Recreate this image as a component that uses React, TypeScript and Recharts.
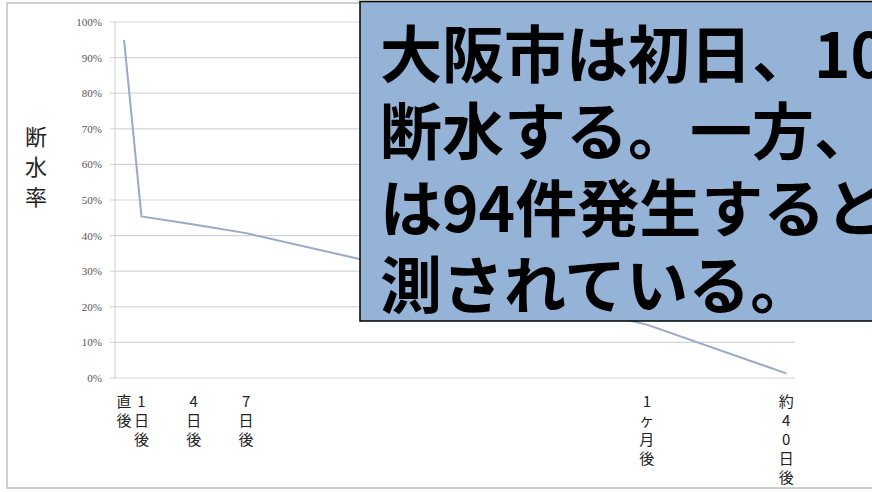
import { LineChart, Line, XAxis, YAxis, CartesianGrid } from "recharts";

// days after the quake (x) and share of households without water (%)
const days = [0, 1, 4, 7, 30, 38];
const rates = [95, 45.4, 43.1, 40.7, 15, 1.3];
const dayLabels = ["直後", "1日後", "4日後", "7日後", "1ヶ月後", "約40日後"];
const yTicks = [0, 10, 20, 30, 40, 50, 60, 70, 80, 90, 100];
const yTitle = "断水率";
const noteLines = ["大阪市は初日、10", "断水する。一方、火", "は94件発生すると", "測されている。"];

const data = days.map((d, i) => ({ day: d, rate: rates[i] }));

const DayTick = (props: any) => {
  const { x, y, payload } = props;
  const label = dayLabels[days.indexOf(payload.value)] ?? "";
  return (
    <text textAnchor="middle" fill="#222" fontSize={15} fontFamily="'Noto Sans CJK JP', sans-serif">
      {Array.from(label).map((c, i) => (
        <tspan key={i} x={x} y={y + 21 + i * 19}>
          {c}
        </tspan>
      ))}
    </text>
  );
};

const YTitle = () => (
  <text textAnchor="middle" fill="#222" fontSize={22} fontFamily="'Noto Sans CJK JP', sans-serif">
    {Array.from(yTitle).map((c, i) => (
      <tspan key={i} x={36} y={145 + i * 30}>
        {c}
      </tspan>
    ))}
  </text>
);

export default function App() {
  return (
    <div style={{ position: "absolute", left: 0, top: 0, width: 872, height: 492, overflow: "hidden", background: "#fff" }}>
      <LineChart width={872} height={492} data={data} margin={{ top: 22, right: 77, bottom: 0, left: 0 }}>
        <CartesianGrid vertical={false} stroke="#d4d4d4" strokeWidth={1.2} />
        <XAxis
          dataKey="day"
          type="number"
          domain={[-0.52, 38.5]}
          ticks={days}
          interval={0}
          axisLine={false}
          tickLine={false}
          height={114}
          tick={<DayTick />}
        />
        <YAxis
          domain={[0, 100]}
          ticks={yTicks}
          width={115}
          tickSize={5}
          tickMargin={8}
          axisLine={{ stroke: "#d0d0d0" }}
          tickLine={{ stroke: "#d0d0d0" }}
          tickFormatter={(v) => `${v}%`}
          tick={{ fontSize: 11, fill: "#555", fontFamily: "'Liberation Serif', serif" }}
          label={{ content: () => <YTitle /> }}
        />
        <Line
          type="linear"
          dataKey="rate"
          stroke="#9aa9c9"
          strokeWidth={2}
          dot={false}
          isAnimationActive={false}
        />
      </LineChart>
      <svg width={872} height={492} style={{ position: "absolute", left: 0, top: 0, pointerEvents: "none" }}>
        <rect x={7} y={3} width={1000} height={485} fill="none" stroke="#c0c0c0" strokeWidth={1.5} />
        <rect x={360} y={1.5} width={1000} height={319.5} fill="#95b3d7" stroke="#000" strokeWidth={1.5} />
        <text fill="#000" fontSize={62} fontWeight={700} fontFamily="'Noto Sans CJK JP', sans-serif">
          {noteLines.map((t, i) => (
            <tspan key={i} x={380} y={78 + i * 77}>
              {t}
            </tspan>
          ))}
        </text>
      </svg>
    </div>
  );
}
